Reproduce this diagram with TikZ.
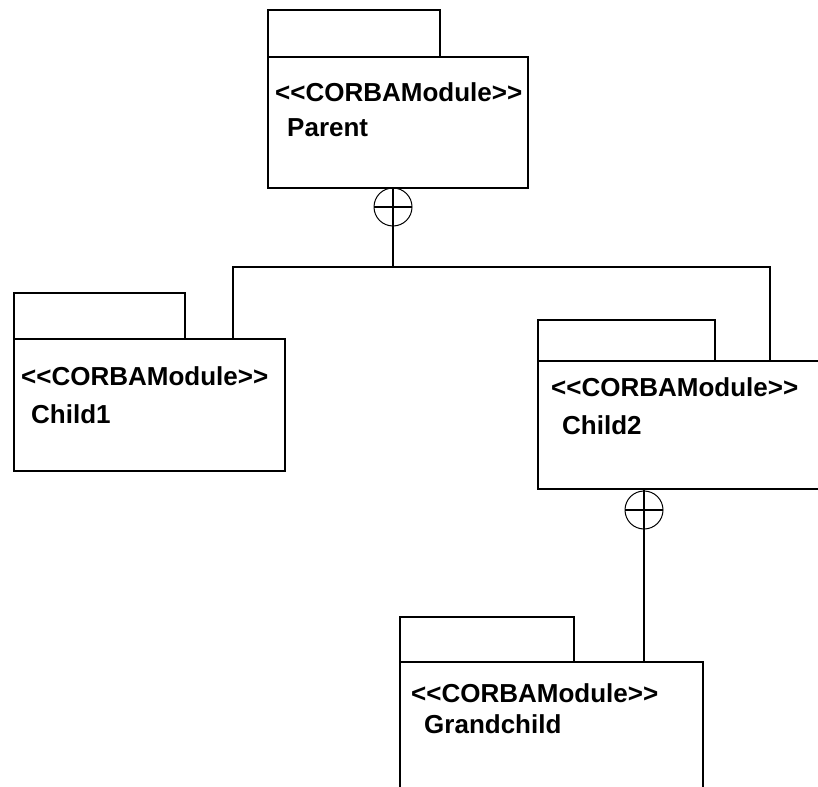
\documentclass[tikz,border=0pt]{standalone}
\usepackage{fontspec}
\defaultfontfeatures{}
\setmainfont{Liberation Sans}[Ligatures=ResetAll]
\usepackage{tikz}
\usetikzlibrary{positioning}

% stereotype text, kept from turning << into a guillemet
\newcommand{\corbaStereo}{<\kern0pt<CORBAModule>\kern0pt>}

\begin{document}
\begin{tikzpicture}[
    x=1pt, y=-1pt,
    body/.style={rectangle, draw, line width=1.8pt, anchor=north west, inner sep=0pt, outer sep=0pt},
    tab/.style={rectangle, draw, line width=1.8pt, anchor=south west, inner sep=0pt, outer sep=0pt},
    label/.style={anchor=base west, inner sep=0pt, font=\fontsize{26}{30}\selectfont\bfseries},
    nestmark/.style={circle, draw, line width=1pt, minimum size=38pt, inner sep=0pt, outer sep=0pt,
        path picture={\draw[line width=1.2pt] (path picture bounding box.west) -- (path picture bounding box.east);}},
    conn/.style={line width=1.8pt}
]
\clip (0,0) rectangle (818,786);

% Parent module
\node[body, minimum width=260pt, minimum height=131pt] (parent) at (268,57) {};
\node[tab, minimum width=172pt, minimum height=47pt] (parentTab) at (parent.north west) {};
\node[label] (parentStereo) at (275,102) {\corbaStereo};
\node[label] (parentName) at (287,137) {Parent};

% Child1 module
\node[body, minimum width=271pt, minimum height=132pt] (child1) at (14,339) {};
\node[tab, minimum width=171pt, minimum height=46pt] (child1Tab) at (child1.north west) {};
\node[label] (child1Stereo) at (21,385) {\corbaStereo};
\node[label] (child1Name) at (31,423) {Child1};

% Child2 module
\node[body, minimum width=300pt, minimum height=128pt] (child2) at (538,361) {};
\node[tab, minimum width=177pt, minimum height=41pt] (child2Tab) at (child2.north west) {};
\node[label] (child2Stereo) at (551,396) {\corbaStereo};
\node[label] (child2Name) at (562,434) {Child2};

% Grandchild module
\node[body, minimum width=303pt, minimum height=140pt] (grandchild) at (400,662) {};
\node[tab, minimum width=174pt, minimum height=45pt] (grandchildTab) at (grandchild.north west) {};
\node[label] (grandchildStereo) at (411,702) {\corbaStereo};
\node[label] (grandchildName) at (424,733) {Grandchild};

% Nesting connectors
\node[nestmark] (parentNest) at (393,207) {};
\coordinate (busL) at (233,267);
\coordinate (busR) at (770,267);
\draw[conn] (parentNest |- parent.south) -- (parentNest |- busL);
\draw[conn] (child1.north -| busL) -- (busL) -- (busR) -- (busR |- child2.north);

\node[nestmark] (child2Nest) at (644,510) {};
\draw[conn] (child2Nest |- child2.south) -- (child2Nest |- grandchild.north);

\end{tikzpicture}
\end{document}
